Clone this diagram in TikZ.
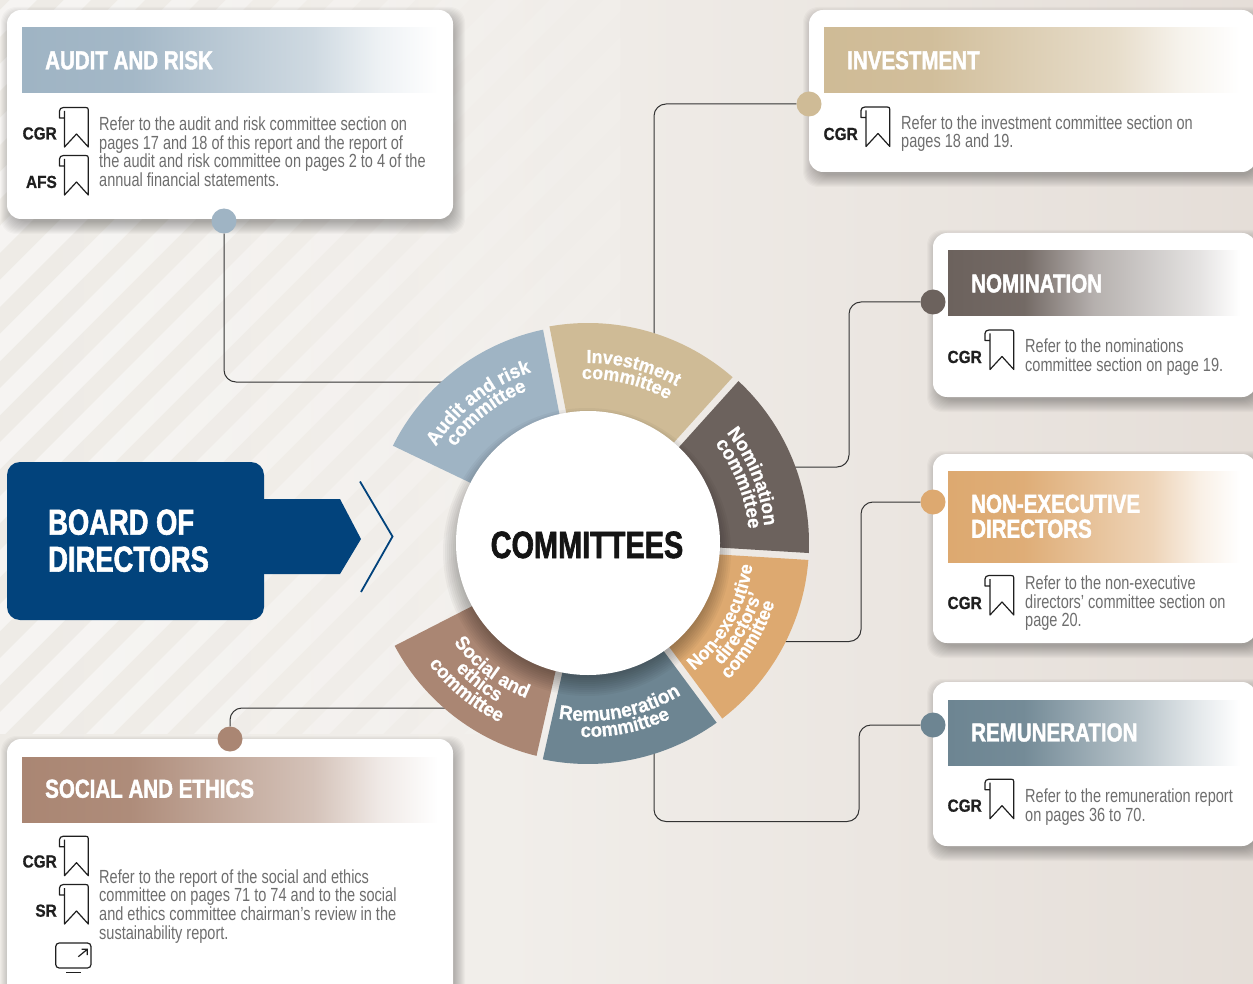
\documentclass[tikz,border=0pt]{standalone}
\usepackage{fontspec}
\usetikzlibrary{decorations.text,fadings}
\setmainfont{Liberation Sans}
\newfontfamily\titlef[FakeStretch=0.79,BoldFeatures={FakeBold=1.6}]{Liberation Sans}
\newfontfamily\bigf[FakeStretch=0.76,BoldFeatures={FakeBold=1.6}]{Liberation Sans}
\newfontfamily\bodyf[FakeStretch=0.765]{Liberation Sans}
\newfontfamily\cgrf[FakeStretch=0.88,BoldFeatures={FakeBold=0.7}]{Liberation Sans}
\newfontfamily\ringff[FakeStretch=0.95,BoldFeatures={FakeBold=0.7}]{Liberation Sans}
\newcommand\ringf[1]{\ringff\bfseries\fontsize{#1}{#1}\selectfont}
\definecolor{cA}{HTML}{9FB4C4}
\definecolor{cI}{HTML}{CFBB96}
\definecolor{cN}{HTML}{6C625D}
\definecolor{cE}{HTML}{DDA970}
\definecolor{cR}{HTML}{6D8592}
\definecolor{cS}{HTML}{AA8673}
\definecolor{cB}{HTML}{02437C}
\definecolor{bgL}{HTML}{EEEBE6}
\definecolor{bgM}{HTML}{F1EEEA}
\definecolor{bgR}{HTML}{E5DED8}
\pgfdeclarehorizontalshading{bgshade}{100bp}{color(0bp)=(bgL);color(25bp)=(bgL);color(45bp)=(bgM);color(75bp)=(bgR);color(100bp)=(bgR)}
\newcommand\defhdr[2]{\pgfdeclarehorizontalshading{hdr#1}{100bp}{color(0bp)=(#1);color(25bp)=(#1);color(38bp)=(#1!95!white);color(#2bp)=(#1!50!white);color(68bp)=(#1!18!white);color(75bp)=(white);color(100bp)=(white)}}
\defhdr{cA}{60}\defhdr{cI}{60}\defhdr{cN}{50}\defhdr{cE}{60}\defhdr{cR}{57}\defhdr{cS}{60}
\tikzfading[name=fadeR,left color=transparent!100,right color=transparent!0]
\tikzset{
  conn/.style={draw=black!80,line width=1pt,rounded corners=12pt},
  dot/.style={circle,minimum size=25pt,inner sep=0pt},
  ttl/.style={anchor=north west,inner sep=0pt,text=white,align=left,font=\titlef\bfseries\fontsize{26}{25}\selectfont},
  bodytxt/.style={anchor=north west,inner sep=0pt,text=black!57,align=left,font=\bodyf\fontsize{19}{18.7}\selectfont},
  tag/.style={anchor=base east,inner sep=0pt,text=black!88,font=\cgrf\bfseries\fontsize{17.5}{17.5}\selectfont},
  bm/.pic={\draw[black!88,line width=1.2pt,line join=round] (5,4)--(5,40)--(17,27)--(28.8,40)--(28.8,3)
     .. controls (28.8,1) and (28,0.5) .. (26,0.5)--(4,0.5) .. controls (1.5,0.5) and (0,2) .. (0,4)--(0,11)--(4,11);}
}
\newcommand\cardbox[4]{%
  \foreach \e in {9,...,-3}{\fill[black,opacity=0.022,rounded corners=15pt] ({#1+3-\e},{#2+6-\e}) rectangle ({#3+3+\e},{#4+6+\e});}
  \fill[white,rounded corners=14pt] (#1,#2) rectangle (#3,#4);}
\newcommand\hdr[5]{\shade[shading=hdr#1] (#2,#3) rectangle (#4,#5);}
\newcommand\ringseg[4]{\fill[#1] ({#2-.9}:#4) arc[start angle=#2-.9,end angle=#3+.9,radius=#4] -- ({#3+1.65}:120) arc[start angle=#3+1.65,end angle=#2-1.65,radius=120] -- cycle;}
\newcommand\clab[4][19.5]{\path[decorate,decoration={text along path,text color=white,text align=center,text={|\ringf{#1}|#2}}] ({#4+42}:#3) arc[start angle=#4+42,end angle=#4-42,radius=#3];}
\newcommand\alab[4][19.5]{\path[decorate,decoration={text along path,text color=white,text align=center,text={|\ringf{#1}|#2}}] ({#4-42}:#3) arc[start angle=#4-42,end angle=#4+42,radius=#3];}
\begin{document}
\begin{tikzpicture}[x=1pt,y=-1pt]
\clip (0,0) rectangle (1253,984);
% background
\shade[shading=bgshade] (0,0) rectangle (1253,984);
\begin{scope}
  \clip (0,0) rectangle (620,733);
  \fill[white,opacity=0.55] foreach \k in {0,...,28}{({54*\k+10},0) -- ++(27,0) -- ++(-800,800) -- ++(-27,0) -- cycle};
  \fill[bgM,path fading=fadeR] (0,-6) rectangle (620,739);
\end{scope}
% cards
\cardbox{7}{10}{453}{219}
\cardbox{809}{10}{1256}{172}
\cardbox{933}{233}{1256}{397}
\cardbox{933}{454}{1256}{643}
\cardbox{933}{682}{1256}{846}
\cardbox{7}{739}{453}{1000}
% headers
\hdr{cA}{22}{28}{438}{93}
\hdr{cI}{824}{28}{1240}{93}
\hdr{cN}{948}{251}{1240}{316}
\hdr{cE}{948}{471}{1240}{562}
\hdr{cR}{948}{700}{1240}{765}
\hdr{cS}{22}{757}{438}{822}
% titles
\node[ttl] (tA) at (45,50.9) {AUDIT AND RISK};
\node[ttl] (tI) at (847,50.9) {INVESTMENT};
\node[ttl] (tN) at (971,274.1) {NOMINATION};
\node[ttl] (tE) at (971,494.4) {NON-EXECUTIVE\\DIRECTORS};
\node[ttl] (tR) at (971,723.1) {REMUNERATION};
\node[ttl] (tS) at (45,779.4) {SOCIAL AND ETHICS};
% body text
\node[bodytxt] (bA) at (99,116.5) {Refer to the audit and risk committee section on\\pages 17 and 18 of this report and the report of\\the audit and risk committee on pages 2 to 4 of the\\annual financial statements.};
\node[bodytxt] (bI) at (901,115.2) {Refer to the investment committee section on\\pages 18 and 19.};
\node[bodytxt] (bN) at (1025,338.5) {Refer to the nominations\\committee section on page 19.};
\node[bodytxt] (bE) at (1025,575.5) {Refer to the non-executive\\directors’ committee section on\\page 20.};
\node[bodytxt] (bR) at (1025,788.5) {Refer to the remuneration report\\on pages 36 to 70.};
\node[bodytxt] (bS) at (99,869.2) {Refer to the report of the social and ethics\\committee on pages 71 to 74 and to the social\\and ethics committee chairman’s review in the\\sustainability report.};
% tags and bookmarks
\node[tag] (g1) at (57,139.5) {CGR};
\node[tag] (g2) at (57,188) {AFS};
\node[tag] (g3) at (858,140) {CGR};
\node[tag] (g4) at (982,363) {CGR};
\node[tag] (g5) at (982,609) {CGR};
\node[tag] (g6) at (982,811.7) {CGR};
\node[tag] (g7) at (57,867.5) {CGR};
\node[tag] (g8) at (57,916.7) {SR};
\path (59.5,107) pic {bm};
\path (59.5,155) pic {bm};
\path (861,106.5) pic {bm};
\path (985,329.5) pic {bm};
\path (985,575) pic {bm};
\path (985,778.7) pic {bm};
\path (59.5,835.7) pic {bm};
\path (59.5,884) pic {bm};
% monitor icon
\draw[black!88,line width=1.2pt,rounded corners=3.5pt] (55.7,943) rectangle (91,968);
\draw[black!88,line width=1.2pt] (66,972.7) -- (81,972.7);
\draw[black!88,line width=1.2pt] (78.3,956.7) -- (87.3,949.3) (81.5,949.3) -- (87.3,949.3) -- (87.3,955);
% dots
\node[dot,fill=cA] (dA) at (224,221) {};
\node[dot,fill=cI] (dI) at (809,104) {};
\node[dot,fill=cN] (dN) at (933,302) {};
\node[dot,fill=cE] (dE) at (933,502) {};
\node[dot,fill=cR] (dR) at (933,725) {};
\node[dot,fill=cS] (dS) at (230,739) {};
% connector ends under the ring
\coordinate (rA) at (460,382);
\coordinate (rI) at (654,350);
\coordinate (rN) at (780,467);
\coordinate (rE) at (775,641.5);
\coordinate (rR) at (654,740);
\coordinate (rS) at (460,708);
\draw[conn] (dA) |- (rA);
\draw[conn] (dS) |- (rS);
\draw[conn] (dI) -| (rI);
\draw[conn] (dN) -- (849,302) -- (849,467) -- (rN);
\draw[conn] (dE) -- (861,502) -- (861,641.5) -- (rE);
\draw[conn] (dR) -- (859,725) -- (859,821.5) -- (654,821.5) -- (rR);
% board of directors
\fill[cB,rounded corners=13pt] (7,462) rectangle (264,620);
\fill[cB] (260,499) -- (340,499) -- (361,539) -- (340,574) -- (260,574) -- cycle;
\draw[cB,line width=1.8pt] (360,481.5) -- (392.5,536.5) -- (361,592);
\node[ttl,font=\bigf\bfseries\fontsize{36}{37}\selectfont] (bd) at (48,509.3) {BOARD OF\\DIRECTORS};
% ring
\begin{scope}[shift={(588,543)},y=1pt]
  \ringseg{cA}{154.4}{101}{218}
  \ringseg{cI}{101}{48}{220}
  \ringseg{cN}{48}{-3.5}{221}
  \ringseg{cE}{-3.5}{-53.5}{221}
  \ringseg{cR}{-53.5}{-102.7}{221}
  \ringseg{cS}{-102.7}{-152.9}{219}
  \foreach \r in {144,142,...,126}{\fill[black,opacity=0.035] (-1,-9) circle[radius=\r];}
  \fill[white] (0,0) circle[radius=132];
  \clab{Audit and risk}{180}{128}
  \clab{committee}{164}{128}
  \clab[18.8]{Investment}{180}{75.5}
  \clab[18.8]{committee}{164}{76.5}
  \clab{Nomination}{177}{22}
  \clab{committee}{161}{21.5}
  \alab[19]{Non-executive}{166}{-29}
  \alab[19]{directors’}{181}{-29.5}
  \alab[19]{committee}{196}{-31}
  \alab[20]{Remuneration}{178}{-79}
  \alab{committee}{194}{-78.5}
  \alab{Social and}{167}{-127.6}
  \alab{ethics}{183}{-128}
  \alab{committee}{200}{-129.5}
\end{scope}
\node[anchor=base,inner sep=0pt,text=black!92,font=\bigf\bfseries\fontsize{38}{38}\selectfont] (cc) at (587,558) {COMMITTEES};
\end{tikzpicture}
\end{document}
